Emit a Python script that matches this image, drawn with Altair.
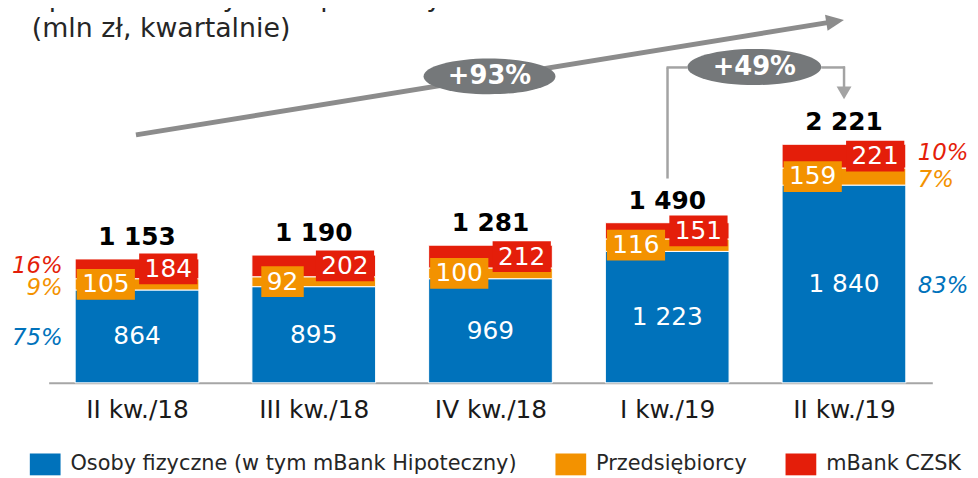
import json
import altair as alt
import pandas as pd

# ---------------- data ----------------
categories = ["II kw./18", "III kw./18", "IV kw./18", "I kw./19", "II kw./19"]
series_names = ["Osoby fizyczne (w tym mBank Hipoteczny)", "Przedsiębiorcy", "mBank CZSK"]
osoby_fizyczne = [864, 895, 969, 1223, 1840]
przedsiebiorcy = [105, 92, 100, 116, 159]
mbank_czsk = [184, 202, 212, 151, 221]
totals_reported = [1153, 1190, 1281, 1490, 2221]
growth_labels = ["+93%", "+49%"]
title_lines = ["Sprzedaż kredytów hipotecznych", "(mln zł, kwartalnie)"]

# ---------------- style ----------------
series_colors = ["#0072BB", "#F39200", "#E41E0A"]
FONT = "DejaVu Sans"
TEXT_DARK = "#262626"
W, H = 891, 376
YMAX = 3470
PAD = {"left": 41, "top": 0, "right": 38, "bottom": 94}
STEP = W / len(categories)
UNIT = H / YMAX
BAR_HALF = 0.35


def fmt(v):
    return f"{v:,}".replace(",", " ")


def px(X):  # page x -> plot x
    return X - 8 - PAD["left"]


def py(Y):  # page y -> plot y
    return Y - 8 - PAD["top"]


values = [osoby_fizyczne, przedsiebiorcy, mbank_czsk]
rows = []
tot_rows = []
for i, cat in enumerate(categories):
    base = 0
    total = totals_reported[i]
    stack_top = sum(v[i] for v in values)
    tot_rows.append(dict(i=i, top=stack_top, label=fmt(total)))
    for k, (name, vals) in enumerate(zip(series_names, values)):
        v = vals[i]
        label = fmt(v)
        cx = i + (0 if k == 0 else (-31.5 if k == 1 else 31.5) / STEP)
        hw = (len(label) * 15.9 + 11) / 2 / STEP
        hh = 15.5 / UNIT
        rows.append(dict(
            i=i, k=k, series=name, color=series_colors[k], v=v,
            y0=base, y1=base + v, mid=base + v / 2, label=label,
            x0=i - BAR_HALF, x1=i + BAR_HALF,
            cx=cx, bx0=cx - hw, bx1=cx + hw, by0=base + v / 2 - hh, by1=base + v / 2 + hh,
            pct=f"{round(v / total * 100)}%",
        ))
        base += v
seg = pd.DataFrame(rows)
tot = pd.DataFrame(tot_rows)
one = pd.DataFrame({"k": [0]})

xscale = alt.Scale(domain=[-0.5, len(categories) - 0.5], nice=False, zero=False)
yscale = alt.Scale(domain=[0, YMAX], nice=False, zero=True)
xaxis = alt.Axis(
    values=list(range(len(categories))),
    labelExpr=f"{json.dumps(categories)}[datum.value]",
    domainColor="#a6a6a6", domainWidth=2, ticks=False, grid=False,
    labelFont=FONT, labelFontSize=25, labelColor="#1a1a1a", labelPadding=15,
    labelAngle=0, labelFlush=False, labelOverlap=False, title=None,
)


def X(field):
    return alt.X(field, type="quantitative", scale=xscale, axis=xaxis)


def Y(field):
    return alt.Y(field, type="quantitative", scale=yscale, axis=None)


RECT = "M-1,-0.71H1V0.71H-1Z"
ELLIPSE = "M-1,0A1,0.27,0,1,1,1,0A1,0.27,0,1,1,-1,0Z"
HEAD = "M-1,-0.9L1,0L-1,0.9Z"
HEAD_DOWN = "M-1,-0.85L1,-0.85L0,0.85Z"

bars = alt.Chart(seg).mark_bar(stroke="white", strokeWidth=1).encode(
    x=X("x0"), x2="x1", y=Y("y0"), y2="y1",
    color=alt.Color(
        "series:N",
        scale=alt.Scale(domain=series_names, range=series_colors),
        legend=alt.Legend(
            orient="none", legendX=px(30), legendY=py(455) - 4.5,
            direction="horizontal", title=None, symbolType=RECT, symbolSize=961,
            symbolStrokeWidth=0, symbolOpacity=1, labelFont=FONT, labelFontSize=21,
            labelColor=TEXT_DARK, labelOffset=10, columnPadding=38, padding=0,
            labelLimit=0,
        ),
    ),
)

blue_txt = alt.Chart(seg[seg.k == 0]).mark_text(
    font=FONT, fontSize=25, color="white", baseline="middle"
).encode(x=X("i"), y=Y("mid"), text="label:N")

boxes = alt.Chart(seg[seg.k > 0]).mark_rect().encode(
    x=X("bx0"), x2="bx1", y=Y("by0"), y2="by1",
    color=alt.Color("color:N", scale=None),
)
box_txt = alt.Chart(seg[seg.k > 0]).mark_text(
    font=FONT, fontSize=25, color="white", baseline="middle"
).encode(x=X("cx"), y=Y("mid"), text="label:N")

totals = alt.Chart(tot).mark_text(
    font=FONT, fontSize=25, fontWeight="bold", color="black", baseline="middle", dy=-22
).encode(x=X("i"), y=Y("top"), text="label:N")

pct_layers = []
last = len(categories) - 1
for k, dy in zip(range(3), [2, 4, -3]):
    sub = seg[(seg.k == k) & (seg.i.isin([0, last]))]
    left = sub[sub.i == 0]
    right = sub[sub.i == last]
    pct_layers.append(alt.Chart(left).mark_text(
        font=FONT, fontSize=23, fontStyle="italic", align="right", baseline="middle",
        dx=-(BAR_HALF * STEP + 12.5), dy=dy,
    ).encode(x=X("i"), y=Y("mid"), text="pct:N", color=alt.Color("color:N", scale=None)))
    pct_layers.append(alt.Chart(right).mark_text(
        font=FONT, fontSize=23, fontStyle="italic", align="left", baseline="middle",
        dx=BAR_HALF * STEP + 12, dy=dy,
    ).encode(x=X("i"), y=Y("mid"), text="pct:N", color=alt.Color("color:N", scale=None)))

# ---------------- annotations ----------------
title1 = alt.Chart(one).mark_text(
    font=FONT, fontSize=27, color=TEXT_DARK, align="left", baseline="alphabetic", text=title_lines[0]
).encode(x=alt.value(px(32)), y=alt.value(py(4)))
title2 = alt.Chart(one).mark_text(
    font=FONT, fontSize=27, color=TEXT_DARK, align="left", baseline="alphabetic", text=title_lines[1]
).encode(x=alt.value(px(32)), y=alt.value(py(35)))

big_line = alt.Chart(one).mark_rule(color="#8c8c8c", strokeWidth=5).encode(
    x=alt.value(px(137)), y=alt.value(py(134)), x2=alt.value(px(836)), y2=alt.value(py(20.5))
)
big_head = alt.Chart(one).mark_point(
    shape=HEAD, size=324, filled=True, color="#8c8c8c", opacity=1, angle=350.8, strokeWidth=0
).encode(x=alt.value(px(842)), y=alt.value(py(19.5)))

GRAY2 = "#a3a3a3"
br_specs = [
    (673, 66, 673, 178),
    (672, 66, 693, 66),
    (828, 66, 852, 66),
    (851, 65, 851, 88),
]
brackets = [
    alt.Chart(one).mark_rule(color=GRAY2, strokeWidth=2.5).encode(
        x=alt.value(px(a)), y=alt.value(py(b)), x2=alt.value(px(c)), y2=alt.value(py(d))
    )
    for a, b, c, d in br_specs
]
small_head = alt.Chart(one).mark_point(
    shape=HEAD_DOWN, size=225, filled=True, color=GRAY2, opacity=1, strokeWidth=0
).encode(x=alt.value(px(851)), y=alt.value(py(91.6)))

ell_layers = []
for lab, (cxp, cyp, w) in zip(growth_labels, [(493.5, 75, 133), (760.5, 65.5, 135)]):
    ell_layers.append(alt.Chart(one).mark_point(
        shape=ELLIPSE, size=w * w, filled=True, color="#75787a", opacity=1, strokeWidth=0
    ).encode(x=alt.value(px(cxp)), y=alt.value(py(cyp))))
    ell_layers.append(alt.Chart(one).mark_text(
        font=FONT, fontSize=26, fontWeight="bold", color="white", baseline="middle", text=lab
    ).encode(x=alt.value(px(cxp)), y=alt.value(py(cyp))))

chart = alt.layer(
    bars, blue_txt, boxes, box_txt, totals, *pct_layers,
    title1, title2, big_line, big_head, *brackets, small_head, *ell_layers,
).properties(
    width=W, height=H,
    autosize=alt.AutoSizeParams(type="none"),
    padding=PAD,
    background="white",
).configure_view(stroke=None)

chart.save("out.html", embed_options={"renderer": "svg", "actions": False})
